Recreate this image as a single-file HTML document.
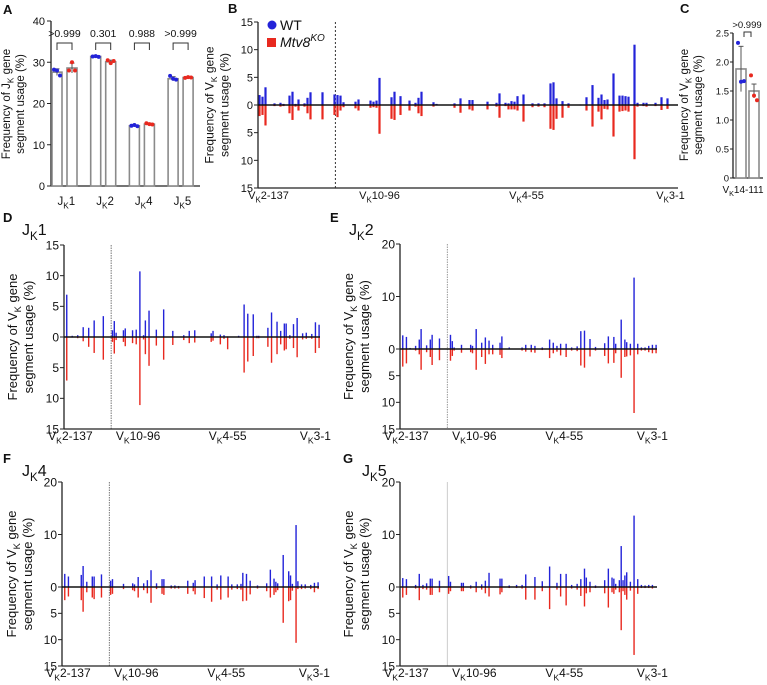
<!DOCTYPE html>
<html><head><meta charset="utf-8"><style>
body{margin:0;background:#fff}
svg{display:block;font-family:"Liberation Sans",Arial,sans-serif}
</style></head><body>
<svg id="fig" width="767" height="685" viewBox="0 0 767 685"></svg>
<script>
// ---------- Panel A data ----------
const aCats=["1","2","4","5"];
const aWT=[27.6,31.4,14.6,26.0];
const aKO=[28.6,30.1,15.0,26.3];
const aWTdots=[[28.2,28.0,26.8],[31.4,31.5,31.3],[14.6,14.8,14.5],[26.7,26.0,25.8]];
const aKOdots=[[28.0,30.0,28.0],[30.5,29.8,30.3],[15.2,15.0,14.9],[26.2,26.4,26.3]];
const aWTsd=[0.8,0.1,0.2,0.5];
const aKOsd=[1.2,0.4,0.2,0.1];
const aP=[">0.999","0.301","0.988",">0.999"];
const aTicks=[0,10,20,30,40];
// ---------- Panel C data ----------
const cWT=1.88, cKO=1.5;
const cWTdots=[2.33,1.66,1.67];
const cKOdots=[1.77,1.42,1.34];
const cWTsd=0.39, cKOsd=0.12;
const cTicks=[0,0.5,1.0,1.5,2.0,2.5];
// ---------- Panel B data (gene index 0..139) ----------
const bGenes=[0,1,2,5,7,8,10,11,12,13,15,16,17,21,25,26,27,28,32,33,37,38,39,40,44,45,47,50,52,53,54,58,59,65,67,70,71,76,79,80,82,83,84,85,86,88,91,93,95,97,98,99,101,103,107,109,111,113,114,115,116,118,120,121,122,123,125,126,128,129,132,134,136];
const bWT=[1.8,1.5,3.2,0.3,0.4,0.2,1.7,2.4,0.2,1.0,0.3,1.3,2.3,2.3,1.9,1.8,1.7,0.5,0.6,1.0,0.8,0.6,0.8,4.9,1.4,2.4,1.6,0.8,0.4,1.3,2.4,0.5,0.2,0.3,1.2,0.9,0.9,0.6,0.4,2.1,0.4,0.3,0.7,0.6,1.6,1.9,0.3,0.3,0.3,3.9,4.1,1.2,0.7,0.3,0.1,1.4,3.6,1.3,1.9,0.9,1.0,5.7,1.7,1.7,1.6,1.5,10.9,0.4,0.4,0.4,0.4,1.4,1.2];
const bKO=[2.0,1.8,3.7,0.2,0.3,0.2,1.5,2.7,0.3,1.0,0.3,1.5,2.6,2.6,1.8,2.2,1.0,0.4,0.6,1.0,0.5,0.4,0.5,5.2,2.5,2.7,1.8,1.0,0.3,1.5,2.0,0.3,0.1,0.5,1.4,0.8,1.0,0.8,0.3,2.3,0.2,0.8,0.8,0.8,1.0,3.0,0.4,0.3,0.4,4.3,4.5,2.5,2.3,0.5,0.1,1.0,3.9,1.2,2.6,0.7,0.8,5.7,1.2,1.1,1.0,1.2,9.8,0.3,0.2,0.3,0.2,0.9,0.7];
const bTicksUp=[0,5,10,15], bTicksDn=[5,10,15];
// ---------- Panel D (JK1) ----------
const dGenes=[1,4,7,10,13,16,21,26,27,28,32,33,37,39,41,43,44,46,50,54,59,65,68,71,80,81,85,87,89,95,98,100,103,105,106,111,113,116,118,120,121,123,125,127,130,132,135,137,139];
const dWT=[6.9,0.2,0.3,1.6,1.5,2.7,3.4,1.1,2.6,0.7,1.1,1.4,1.1,1.2,10.7,0.3,2.7,4.3,1.2,4.5,1.0,0.3,1.0,1.1,0.6,1.0,0.4,0.3,0.1,0.2,5.3,3.8,3.7,0.2,0.2,1.5,4.0,2.5,1.0,2.2,2.2,0.3,2.1,3.1,0.6,0.7,0.5,2.4,2.0];
const dKO=[7.1,0.1,0.2,0.7,1.6,2.6,3.7,0.8,2.7,0.5,0.8,1.5,1.0,1.2,11.1,0.4,2.8,4.7,1.4,3.7,1.3,0.5,1.0,0.9,0.8,0.6,1.2,0.3,2.0,0.1,5.8,4.0,3.1,0.2,0.2,1.6,4.2,2.8,1.2,2.2,2.0,0.3,1.8,3.3,0.4,0.3,0.3,2.6,1.8];
// ---------- Panel E (JK2) ----------
const eGenes=[1,3,5,8,10,11,14,16,17,21,27,28,29,33,38,39,41,44,46,48,50,54,55,59,66,68,71,73,77,81,83,85,87,90,93,96,98,100,103,106,111,113,116,117,120,122,123,125,127,129,131,133,135,137,139];
const eWT=[2.6,2.3,0.2,0.6,1.8,3.8,0.7,1.8,2.7,2.0,2.7,1.5,0.3,0.8,0.8,0.6,3.8,1.2,2.2,1.6,0.8,1.2,2.4,0.3,0.3,0.8,0.8,0.6,0.3,1.8,1.2,0.6,1.0,1.0,0.3,0.5,3.4,3.5,1.9,0.4,1.1,2.4,2.3,1.0,5.6,1.8,1.3,1.0,13.6,1.0,0.3,0.3,0.6,0.8,0.8];
const eKO=[3.3,2.7,0.1,0.3,1.0,3.9,0.6,1.5,3.0,2.1,2.2,1.3,0.3,0.7,0.6,0.8,3.9,1.5,2.8,1.0,1.0,1.1,1.7,0.1,0.3,0.5,0.6,0.7,0.2,1.7,0.8,0.5,1.2,1.5,0.3,0.4,3.1,3.5,1.4,0.3,1.3,2.7,2.6,0.8,5.4,1.5,1.4,1.2,12.0,1.0,0.3,0.3,0.6,0.8,0.8];
// ---------- Panel F (JK4) ----------
const fGenes=[1,3,10,11,13,16,17,21,26,27,33,38,39,41,44,46,48,51,54,55,59,61,63,68,71,72,77,81,84,86,90,92,95,97,98,100,102,106,111,113,115,116,117,120,123,124,125,127,128,130,132,135,137,139];
const fWT=[2.5,2.0,2.3,4.0,1.0,2.0,2.0,2.4,1.2,1.5,0.6,0.7,0.5,1.9,0.7,1.3,3.2,0.7,1.5,1.5,0.3,0.3,0.2,1.2,0.8,1.3,2.0,2.0,0.5,2.2,2.0,0.5,0.5,0.6,2.7,2.5,1.2,0.3,0.7,3.3,1.6,1.0,0.7,6.1,3.0,2.2,0.6,11.8,1.1,0.5,0.5,0.4,0.8,0.9];
const fKO=[2.5,1.8,2.5,4.7,1.0,2.0,2.3,2.0,1.5,1.3,0.4,0.6,0.8,2.0,0.6,1.2,3.0,0.4,1.3,1.5,0.3,0.3,0.3,1.3,0.8,1.4,2.1,2.8,0.5,2.4,2.0,0.5,0.4,0.5,2.7,2.6,1.4,0.3,0.8,2.0,1.5,1.0,0.6,6.8,2.7,2.5,0.7,10.6,0.4,0.4,0.3,0.4,1.0,0.4];
// ---------- Panel G (JK5) ----------
const gGenes=[1,3,8,10,12,14,16,17,21,26,27,33,34,38,41,44,46,48,54,55,59,63,66,68,73,77,81,85,87,90,93,96,98,100,101,103,106,111,113,115,116,117,119,120,121,122,123,125,127,129,131,133,135,137];
const gWT=[1.7,1.5,0.4,2.5,0.4,0.7,1.6,1.6,1.2,2.1,1.0,0.8,0.8,0.3,1.0,0.5,1.2,2.7,1.6,1.6,0.3,0.4,0.4,2.4,1.9,1.1,3.9,0.8,2.5,2.5,0.4,0.6,1.5,3.5,1.8,1.0,0.3,1.3,3.5,1.8,1.6,0.6,1.3,7.8,1.3,2.2,2.8,1.0,13.6,1.5,0.4,0.3,0.4,0.4];
const gKO=[2.0,1.5,0.3,2.5,0.4,0.5,1.5,1.5,1.0,1.3,0.8,0.8,0.8,0.3,1.0,0.5,1.2,1.8,1.4,1.0,0.2,0.2,0.3,2.4,2.4,0.8,4.2,0.5,1.8,3.5,0.3,0.5,1.7,3.7,1.2,1.0,0.2,1.2,3.9,1.0,1.3,0.5,1.0,8.2,0.8,1.5,2.4,0.7,12.9,1.3,0.2,0.2,0.2,0.3];
const vTicksUp=[0,10,20], vTicksDn=[5,10,15];
const NGENES=140;
const vLabels=["2-137","10-96","4-55","3-1"];
const vLabelIdx=[3,40,89,137];

const NS="http://www.w3.org/2000/svg";
const svg=document.getElementById('fig');
const BLUE="#2323d8", RED="#e8291f";
function el(tag,attrs,parent){const e=document.createElementNS(NS,tag);for(const k in attrs)e.setAttribute(k,attrs[k]);(parent||svg).appendChild(e);return e;}
function txt(x,y,s,size,anchor,parent,extra){const t=el('text',Object.assign({x:x,y:y,'font-size':size,'text-anchor':anchor||'start',fill:'#111'},extra||{}),parent);t.textContent=s;return t;}
function subText(x,y,pre,sub,post,size,anchor,parent){
  const t=el('text',{x:x,y:y,'font-size':size,'text-anchor':anchor||'start',fill:'#111'},parent);
  const a=el('tspan',{},t);a.textContent=pre;
  const b=el('tspan',{dy:size*0.3,'font-size':size*0.72},t);b.textContent=sub;
  const c=el('tspan',{dy:-size*0.3},t);c.textContent=post;return t;}
function yTitle(cx,cy,line1pre,sub,line1post,parent,size){
  size=size||11.5;
  const g=el('g',{transform:`translate(${cx},${cy}) rotate(-90)`},parent);
  
  
  subText(0,-size*0.62,line1pre,sub,line1post,size,'middle',g);
  txt(0,size*0.62,'segment usage (%)',size,'middle',g);
}

// ----- Panel A -----
(function(){
  const g=el('g',{});
  
  
  const x0=51,xEnd=200,yZ=186,yTop=21,max=40;
  const y=v=>yZ-(v/max)*(yZ-yTop);
  const cx=i=>64.5+i*38.7;
  txt(3,14,'A',13,'start',g,{'font-weight':'bold'});
  el('line',{x1:x0,y1:yTop,x2:x0,y2:yZ,stroke:'#222','stroke-width':1.3},g);
  el('line',{x1:x0,y1:yZ,x2:xEnd,y2:yZ,stroke:'#222','stroke-width':1.3},g);
  aTicks.forEach(t=>{el('line',{x1:x0-4,y1:y(t),x2:x0,y2:y(t),stroke:'#222'},g);txt(x0-6,y(t)+4,String(t),11,'end',g);});
  aCats.forEach((c,i)=>{
    [[aWT,aWTdots,aWTsd,BLUE,-7.5],[aKO,aKOdots,aKOsd,RED,7.5]].forEach(([m,dots,sd,col,off])=>{
      const bx=cx(i)+off;
      const r=el('rect',{x:bx-5,y:y(m[i]),width:10,height:yZ-y(m[i]),fill:'#fff',stroke:'#8a8a8a','stroke-width':1.6},g);
      
      
      el('line',{x1:bx,y1:y(m[i]+sd[i]),x2:bx,y2:y(m[i]-sd[i]),stroke:'#555'},g);
      el('line',{x1:bx-2.5,y1:y(m[i]+sd[i]),x2:bx+2.5,y2:y(m[i]+sd[i]),stroke:'#555'},g);
      dots[i].forEach((d,k)=>{el('circle',{cx:bx-3+k*3,cy:y(d),r:2,fill:col},g);});
    });
    subText(cx(i)-7,205,'J','K',c,11.5,'start',g);
    el('path',{d:`M${cx(i)-7.5},50 V43 H${cx(i)+7.5} V50`,fill:'none',stroke:'#333'},g);
    txt(cx(i),37,aP[i],10.5,'middle',g);
  });
  yTitle(17,104,'Frequency of J','K',' gene',g,11.5);
})();

// ----- Panel C -----
(function(){
  const g=el('g',{});
  
  
  const x0=733,yZ=178,yTop=33,max=2.5;
  const y=v=>yZ-(v/max)*(yZ-yTop);
  txt(680,13,'C',13,'start',g,{'font-weight':'bold'});
  el('line',{x1:x0,y1:yTop,x2:x0,y2:yZ,stroke:'#222','stroke-width':1.3},g);
  el('line',{x1:x0,y1:yZ,x2:763,y2:yZ,stroke:'#222','stroke-width':1.3},g);
  cTicks.forEach(t=>{el('line',{x1:x0-3,y1:y(t),x2:x0,y2:y(t),stroke:'#222'},g);txt(x0-4,y(t)+3.5,t===0?'0':t.toFixed(1),9.5,'end',g);});
  [[cWT,cWTdots,cWTsd,BLUE,741],[cKO,cKOdots,cKOsd,RED,754]].forEach(([m,dots,sd,col,bx])=>{
    const r=el('rect',{x:bx-5,y:y(m),width:10,height:yZ-y(m),fill:'#fff',stroke:'#8a8a8a','stroke-width':1.6},g);
    
    
    el('line',{x1:bx,y1:y(m+sd),x2:bx,y2:y(m-sd),stroke:'#555'},g);
    el('line',{x1:bx-2.5,y1:y(m+sd),x2:bx+2.5,y2:y(m+sd),stroke:'#555'},g);
    dots.forEach((d,k)=>{el('circle',{cx:bx-3+k*3,cy:y(d),r:2,fill:col},g);});
  });
  el('path',{d:'M744,37 V32 H751 V37',fill:'none',stroke:'#333'},g);
  txt(747,28,'>0.999',9.5,'middle',g);
  subText(743,193,'V','K','14-111',10,'middle',g);
  yTitle(695,105,'Frequency of V','K',' gene',g,11.5);
})();

// ----- Mirror charts -----
function mirror(cfg){
  const g=el('g',{});
  
  
  const {x0,x1,yZ,upPx,dnPx,upMax,dnMax}=cfg;
  const fs=cfg.fs||11;
  const xs=i=>x0+(i+0.5)*(x1-x0)/NGENES;
  const yu=v=>yZ-v*upPx, yd=v=>yZ+v*dnPx;
  el('line',{x1:xs(cfg.dash),y1:yu(upMax),x2:xs(cfg.dash),y2:yd(dnMax),stroke:cfg.dashCol,'stroke-width':1,'stroke-dasharray':cfg.dashArr},g);
  cfg.genes.forEach((gi,k)=>{
    const bx=xs(gi);
    const b1=el('rect',{x:bx-cfg.bw/2,y:yu(cfg.wt[k]),width:cfg.bw,height:cfg.wt[k]*upPx,fill:BLUE},g);
    
    
    const b2=el('rect',{x:bx-cfg.bw/2,y:yZ,width:cfg.bw,height:cfg.ko[k]*dnPx,fill:RED},g);
    
    
  });
  el('line',{x1:x0,y1:yu(upMax),x2:x0,y2:yd(dnMax),stroke:'#222','stroke-width':1.3},g);
  el('line',{x1:x0,y1:yd(dnMax),x2:x1,y2:yd(dnMax),stroke:'#222','stroke-width':1.3},g);
  el('line',{x1:x0,y1:yZ,x2:x1,y2:yZ,stroke:'#111','stroke-width':1.6},g);
  cfg.tUp.forEach(t=>{el('line',{x1:x0-4,y1:yu(t),x2:x0,y2:yu(t),stroke:'#222'},g);txt(x0-5,yu(t)+fs*0.36,String(t),fs,'end',g);});
  cfg.tDn.forEach(t=>{el('line',{x1:x0-4,y1:yd(t),x2:x0,y2:yd(t),stroke:'#222'},g);txt(x0-5,yd(t)+fs*0.36,String(t),fs,'end',g);});
  vLabels.forEach((l,i)=>{const t=subText(xs(vLabelIdx[i]),yd(dnMax)+11,'V','K',l,fs,'middle',g);
    });
  yTitle(cfg.titleX,(yu(upMax)+yd(dnMax))/2,'Frequency of V','K',' gene',g,cfg.ts||12);
  txt(cfg.letterX,cfg.letterY,cfg.letter,13,'start',g,{'font-weight':'bold'});
  if(cfg.jk) subText(cfg.letterX+19,cfg.letterY+13,'J','K',cfg.jk,16,'start',g);
  return g;
}
mirror({name:'panel-b-vk-usage-chart',x0:258,x1:678,yZ:105,upPx:83/15,dnPx:83/15,upMax:15,dnMax:15,genes:bGenes,wt:bWT,ko:bKO,tUp:bTicksUp,tDn:bTicksDn,bw:2.2,dash:25.3,dashCol:'#333',dashArr:'2,2',titleX:221,ts:12,fs:11,letter:'B',letterX:228,letterY:13});
mirror({name:'panel-d-jk1-chart',x0:64,x1:320,yZ:337,upPx:92/15,dnPx:92/15,upMax:15,dnMax:15,genes:dGenes,wt:dWT,ko:dKO,tUp:bTicksUp,tDn:bTicksDn,bw:1.4,dash:25.3,dashCol:'#777',dashArr:'1.5,1',titleX:25,ts:13,fs:12,letter:'D',letterX:3,letterY:222,jk:'1'});
mirror({name:'panel-e-jk2-chart',x0:400,x1:657,yZ:349,upPx:105/20,dnPx:80/15,upMax:20,dnMax:15,genes:eGenes,wt:eWT,ko:eKO,tUp:vTicksUp,tDn:vTicksDn,bw:1.4,dash:25.3,dashCol:'#999',dashArr:'1.5,1',titleX:361,ts:13,fs:12,letter:'E',letterX:330,letterY:222,jk:'2'});
mirror({name:'panel-f-jk4-chart',x0:62,x1:319,yZ:587,upPx:105/20,dnPx:79/15,upMax:20,dnMax:15,genes:fGenes,wt:fWT,ko:fKO,tUp:vTicksUp,tDn:vTicksDn,bw:1.4,dash:25.3,dashCol:'#777',dashArr:'1.5,1',titleX:24,ts:13,fs:12,letter:'F',letterX:3,letterY:463,jk:'4'});
mirror({name:'panel-g-jk5-chart',x0:400,x1:657,yZ:587,upPx:105/20,dnPx:79/15,upMax:20,dnMax:15,genes:gGenes,wt:gWT,ko:gKO,tUp:vTicksUp,tDn:vTicksDn,bw:1.4,dash:25.3,dashCol:'#ccc',dashArr:'none',titleX:361,ts:13,fs:12,letter:'G',letterX:343,letterY:463,jk:'5'});

// Legend in B
const lg=el('g',{});


el('circle',{cx:272,cy:25,r:4.5,fill:BLUE},lg);
txt(280,30,'WT',14,'start',lg);
el('rect',{x:267,y:38,width:9,height:9,fill:RED},lg);
const kt=txt(280,47,'Mtv8',14,'start',lg,{'font-style':'italic'});
const sup=el('tspan',{dy:-6,'font-size':10},kt);sup.textContent='KO';
</script>
</body></html>
